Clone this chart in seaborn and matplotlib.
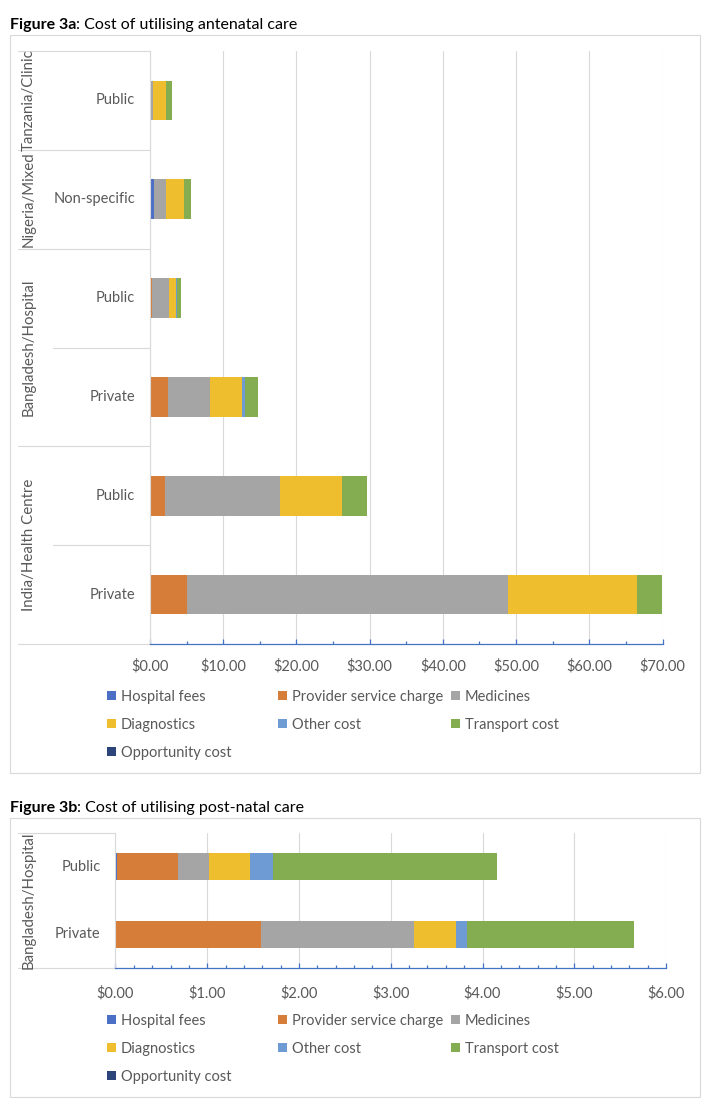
import numpy as np
import pandas as pd
import matplotlib
matplotlib.use("Agg")
import matplotlib.pyplot as plt
import seaborn as sns
from matplotlib.patches import Patch, Rectangle
from matplotlib.ticker import MultipleLocator, FuncFormatter
import matplotlib.transforms as mtransforms

# ---------------- data ----------------
components = ["Hospital fees", "Provider service charge", "Medicines",
              "Diagnostics", "Other cost", "Transport cost", "Opportunity cost"]
colors = ["#4A6FC5", "#D67D3A", "#A5A5A5", "#EFBE2F", "#6F9BD4", "#84AD52", "#2B4479"]

# Figure 3a: antenatal care
a_groups = ["Tanzania/Clinic", "Nigeria/Mixed", "Bangladesh/Hospital",
            "Bangladesh/Hospital", "India/Health Centre", "India/Health Centre"]
a_types = ["Public", "Non-specific", "Public", "Private", "Public", "Private"]
a_hospital = [0.0, 0.50, 0.0, 0.0, 0.0, 0.0]
a_provider = [0.0, 0.0, 0.30, 2.40, 2.10, 5.05]
a_medicines = [0.36, 1.70, 2.25, 5.80, 15.70, 43.90]
a_diagnostics = [1.85, 2.40, 1.00, 4.35, 8.40, 17.50]
a_other = [0.0, 0.0, 0.10, 0.40, 0.0, 0.0]
a_transport = [0.75, 1.00, 0.60, 1.75, 3.50, 3.50]
a_opportunity = [0.0, 0.0, 0.0, 0.0, 0.0, 0.0]

# Figure 3b: post-natal care
b_groups = ["Bangladesh/Hospital", "Bangladesh/Hospital"]
b_types = ["Public", "Private"]
b_hospital = [0.02, 0.0]
b_provider = [0.66, 1.585]
b_medicines = [0.34, 1.665]
b_diagnostics = [0.45, 0.46]
b_other = [0.25, 0.12]
b_transport = [2.44, 1.82]
b_opportunity = [0.0, 0.0]

x_ticks_a = [0, 10, 20, 30, 40, 50, 60, 70]
x_ticks_b = [0, 1, 2, 3, 4, 5, 6]

# ---------------- style ----------------
sns.set_theme(style="white")
plt.rcParams["font.family"] = ["Lato", "DejaVu Sans"]

W, H = 711, 1108
fig = plt.figure(figsize=(W / 100, H / 100), dpi=100)

TXT = "#595959"
GRID = "#D9D9D9"
AXBLUE = "#4472C4"


def fx(px):
    return px / W


def fy(py):
    return 1 - py / H


def draw_chart(rect_px, groups, types, series, xticks, minor, short_lines, pad):
    left, top, right, bottom = rect_px
    ax = fig.add_axes([fx(left), fy(bottom), fx(right - left), (bottom - top) / H])
    ax_w = right - left
    rows = [f"r{i}" for i in range(len(types))]
    df = pd.DataFrame(dict(zip(components, series)))
    cum = df.cumsum(axis=1)
    for comp, col in reversed(list(zip(components, colors))):
        sns.barplot(x=cum[comp].values, y=rows, color=col, width=0.4,
                    saturation=1, linewidth=0, errorbar=None, orient="y", ax=ax)
    n = len(rows)
    ax.set_ylim(n - 0.5, -0.5)
    ax.set_xlim(xticks[0], xticks[-1])
    ax.set_xticks(xticks)
    ax.xaxis.set_minor_locator(MultipleLocator(minor))
    ax.xaxis.set_major_formatter(FuncFormatter(lambda v, p: f"${v:,.2f}"))
    ax.set_yticks([])
    ax.set_xlabel("")
    ax.set_ylabel("")
    ax.tick_params(axis="x", which="major", direction="in", length=3.8, width=0.9,
                   color=AXBLUE, labelsize=10.5, labelcolor=TXT, pad=pad, bottom=True)
    ax.tick_params(axis="x", which="minor", direction="in", length=2.4, width=0.9,
                   color=AXBLUE, bottom=True)
    for s in ["top", "right"]:
        ax.spines[s].set_visible(False)
    ax.spines["left"].set_color(GRID)
    ax.spines["left"].set_linewidth(0.8)
    ax.spines["bottom"].set_color(AXBLUE)
    ax.spines["bottom"].set_linewidth(0.9)
    ax.grid(axis="x", which="major", color=GRID, linewidth=0.8)
    ax.set_axisbelow(True)

    trans = mtransforms.blended_transform_factory(ax.transAxes, ax.transData)
    for i, t in enumerate(types):
        ax.text(-15 / ax_w, i, t, transform=trans, ha="right", va="center",
                fontsize=10.5, color=TXT)
    bounds = [0]
    for i in range(1, n):
        if groups[i] != groups[i - 1]:
            bounds.append(i)
    bounds.append(n)
    for a, b in zip(bounds[:-1], bounds[1:]):
        yc = (a + b - 1) / 2
        ax.text((29 - left) / ax_w, yc, groups[a], transform=trans, rotation=90,
                ha="center", va="center", fontsize=10.8, color=TXT)
    for i in range(n + 1):
        y = i - 0.5
        if i in bounds:
            x0 = (18 - left) / ax_w
        elif short_lines:
            x0 = (53 - left) / ax_w
        else:
            continue
        ax.plot([x0, 0], [y, y], color=GRID, lw=0.8, transform=trans, clip_on=False)
    return ax


def title(y_base, bold, rest):
    t1 = fig.text(fx(10), fy(y_base), bold, fontsize=11.5, fontweight="bold",
                  va="baseline", ha="left", color="black")
    fig.canvas.draw()
    bb = t1.get_window_extent()
    fig.text(bb.x1 / W, fy(y_base), rest, fontsize=11.5, va="baseline", ha="left",
             color="black")


def legend(rows_y):
    xs = [107, 278, 451]
    for i, (comp, col) in enumerate(zip(components, colors)):
        r, c = divmod(i, 3)
        fig.legend(handles=[Patch(facecolor=col, edgecolor="none")], labels=[comp],
                   loc="center left", bbox_to_anchor=(fx(xs[c]), fy(rows_y[r])),
                   frameon=False, borderpad=0, borderaxespad=0, handlelength=0.6,
                   handleheight=0.6, handletextpad=0.35, fontsize=10.5,
                   labelcolor=TXT)


fig.patches.append(Rectangle((fx(10), fy(773)), fx(690), (773 - 35) / H,
                             transform=fig.transFigure, fill=False,
                             edgecolor=GRID, lw=0.8))
fig.patches.append(Rectangle((fx(10), fy(1097)), fx(690), (1097 - 818) / H,
                             transform=fig.transFigure, fill=False,
                             edgecolor=GRID, lw=0.8))

title(29, "Figure 3a", ": Cost of utilising antenatal care")
title(812, "Figure 3b", ": Cost of utilising post-natal care")

draw_chart((150, 51, 662.5, 644), a_groups, a_types,
           [a_hospital, a_provider, a_medicines, a_diagnostics, a_other,
            a_transport, a_opportunity], x_ticks_a, 5, True, 10.5)
legend([697, 725, 753])

draw_chart((115.5, 833, 666, 968), b_groups, b_types,
           [b_hospital, b_provider, b_medicines, b_diagnostics, b_other,
            b_transport, b_opportunity], x_ticks_b, 0.2, False, 13)
legend([1021, 1049, 1077])

fig.savefig("out.png", dpi=100)
